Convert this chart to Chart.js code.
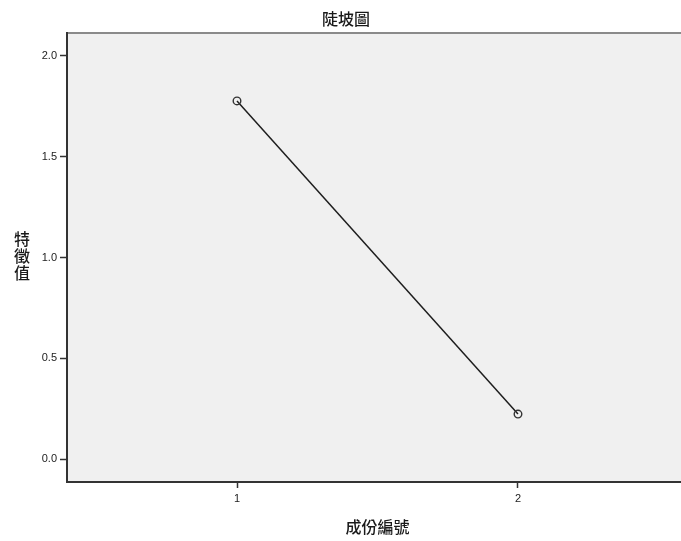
<!DOCTYPE html>
<html>
<head>
<meta charset="utf-8">
<script src="https://cdn.jsdelivr.net/npm/chart.js@4.4.1/dist/chart.umd.min.js"></script>
<style>
  html, body { margin: 0; padding: 0; background: #fff; overflow: hidden; }
  #wrap { width: 681px; height: 541px; overflow: hidden; }
</style>
</head>
<body>
<div id="wrap"><canvas id="scree" width="696" height="541"></canvas></div>
<script>
// component numbers and eigenvalues
const components = [1, 2];
const eigenvalues = [1.777, 0.223];

const xTicks = [1, 2];
const yTicks = [0, 0.5, 1.0, 1.5, 2.0];

const chartTitle = '陡坡圖';
const xTitle = '成份編號';
const yTitle = '特徵值';

const cjkFont = '"Noto Sans CJK TC", "Noto Sans CJK SC", sans-serif';

// plot background, top frame line and the three titles
const frame = {
    id: 'frame',
    beforeDraw(chart) {
        const { ctx, chartArea: a } = chart;
        ctx.save();
        ctx.fillStyle = '#f0f0f0';
        ctx.fillRect(a.left, a.top, a.right - a.left, a.bottom - a.top);
        ctx.strokeStyle = '#8a8a8a';
        ctx.lineWidth = 2;
        ctx.beginPath();
        ctx.moveTo(a.left, a.top);
        ctx.lineTo(a.right, a.top);
        ctx.stroke();
        ctx.restore();
    },
    afterDraw(chart) {
        const { ctx, chartArea: a } = chart;
        ctx.save();
        ctx.fillStyle = '#1a1a1a';
        ctx.textAlign = 'center';
        ctx.textBaseline = 'middle';
        ctx.font = '500 16px ' + cjkFont;
        ctx.fillText(chartTitle, 346, 19);
        ctx.fillText(xTitle, (a.left + a.right) / 2, 527);
        // vertical stacked y title
        const chars = yTitle.split('');
        const lh = 17;
        const midY = (a.top + a.bottom) / 2 - 2;
        chars.forEach((c, i) => {
            ctx.fillText(c, 22, midY + (i - (chars.length - 1) / 2) * lh);
        });
        ctx.restore();
    }
};

new Chart(document.getElementById('scree'), {
    type: 'scatter',
    data: {
        datasets: [{
            data: components.map((c, i) => ({ x: c, y: eigenvalues[i] })),
            showLine: true,
            borderColor: '#1e1e1e',
            borderWidth: 1.5,
            pointRadius: 3.8,
            pointBorderWidth: 1.4,
            pointBorderColor: '#333',
            pointBackgroundColor: 'rgba(0,0,0,0)'
        }]
    },
    options: {
        responsive: false,
        animation: false,
        layout: { padding: { left: 0, top: 33, right: 8, bottom: 0 } },
        plugins: {
            legend: { display: false },
            tooltip: { enabled: false }
        },
        scales: {
            x: {
                type: 'linear',
                min: 0.395,
                max: 2.605,
                afterBuildTicks: s => { s.ticks = xTicks.map(v => ({ value: v })); },
                afterFit: s => { s.height = 59; },
                grid: { drawOnChartArea: false, tickLength: 6, tickColor: '#333', tickWidth: 1.5 },
                border: { display: true, color: '#333', width: 2 },
                ticks: {
                    color: '#222',
                    padding: 4,
                    maxRotation: 0,
                    font: { family: '"Liberation Sans", Arial, sans-serif', size: 11 },
                    callback: v => String(v)
                }
            },
            y: {
                min: -0.114,
                max: 2.114,
                afterBuildTicks: s => { s.ticks = yTicks.map(v => ({ value: v })); },
                afterFit: s => { s.width = 67; },
                grid: { drawOnChartArea: false, tickLength: 7, tickColor: '#333', tickWidth: 1.5 },
                border: { display: true, color: '#333', width: 2 },
                ticks: {
                    color: '#222',
                    padding: 3,
                    font: { family: '"Liberation Sans", Arial, sans-serif', size: 11 },
                    callback: v => Number(v).toFixed(1)
                }
            }
        }
    },
    plugins: [frame]
});
</script>
</body>
</html>
